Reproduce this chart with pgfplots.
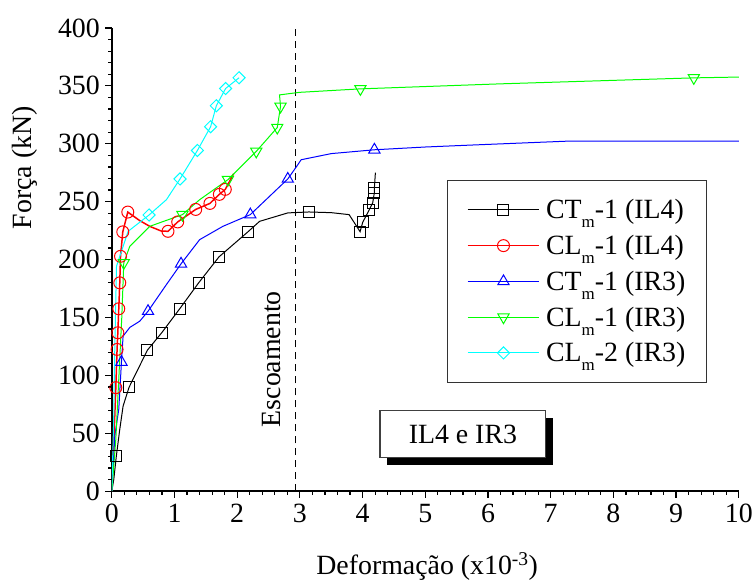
\documentclass[border=0pt]{standalone}
\usepackage{pgfplots}
\pgfplotsset{compat=1.18}
\usepackage{fontspec}
\setmainfont{Liberation Serif}
\newcommand\sub[1]{\raisebox{-9bp}{\fontsize{17}{17}\selectfont #1}}
\newcommand\bigf{\fontsize{28}{32}\selectfont}
\definecolor{cgreen}{RGB}{0,255,0}
\definecolor{ccyan}{RGB}{0,255,255}
\begin{document}
\begin{tikzpicture}
\begin{axis}[
  scale only axis, width=628bp, height=464bp,
  xmin=0, xmax=10, ymin=0, ymax=400,
  xtick={0,1,2,3,4,5,6,7,8,9,10}, ytick={0,50,100,150,200,250,300,350,400},
  xticklabels={0,1,2,3,4,5,6,7,8,9,10},
  yticklabels={0,50,100,150,200,250,300,350,400},
  minor x tick num=4, minor y tick num=4,
  axis x line*=bottom, axis y line*=left,
  axis line style={line width=1.6bp, black},
  tick align=outside,
  major tick length=6.5bp, minor tick length=3.5bp,
  every tick/.append style={line width=1.2bp, black},
  ticklabel style={font=\bigf},
  xticklabel style={yshift=-3bp},
  yticklabel style={xshift=-2bp},
  label style={font=\bigf},
  xlabel={Deformação (x10\textsuperscript{-3})},
  ylabel={Força (kN)},
  xlabel style={at={(axis description cs:0.503,-0.163)}, anchor=center},
  ylabel style={at={(axis description cs:-0.1385,0.698)}, anchor=center},
  legend style={at={(axis description cs:0.535,0.672)}, anchor=north west,
    draw=black!80, line width=1.2bp, fill=white, font=\bigf, row sep=11bp, column sep=4bp,
    inner xsep=19bp, inner ysep=17bp, cells={anchor=west}},
  legend image code/.code={\draw[#1, mark indices={2}] plot coordinates {(0bp,0bp) (36bp,0bp) (72bp,0bp)};},
]
\addplot[black, line width=1bp, dashed, dash pattern=on 7bp off 5bp, forget plot] coordinates {(2.93,0) (2.93,400)};

\addplot[black, line width=1bp, mark=square, mark size=5.5bp, mark options={solid, fill=white, line width=1bp},
  mark indices={3,6,7,8,9,10,11,12,15,18,19,20,21,22,23}] coordinates {
(0,0) (0.032,10.3) (0.072,30.2) (0.127,53.4) (0.18,73.5) (0.275,89.7) (0.568,121.8) (0.796,136.8)
(1.083,157.5) (1.385,179.9) (1.709,202.3) (2.170,223.9) (2.357,233) (2.807,240.3) (3.142,241.1)
(3.5,240.5) (3.785,238.8) (3.960,224.1) (4.002,232.2) (4.108,243.1) (4.161,248.9) (4.188,257.8)
(4.188,261.6) (4.204,275)};
\addlegendentry{CT\sub{m}-1 (IL4)}

\addplot[red, line width=1.5bp, mark=o, mark size=6bp, mark options={solid, fill=white, line width=1bp},
  mark indices={3,4,5,6,7,8,9,10,14,15,16,17,18,19}] coordinates {
(0,0) (0.03,40) (0.064,89.4) (0.084,122.4) (0.096,136.8) (0.111,157.5) (0.127,179.9) (0.139,202.8)
(0.175,223.9) (0.255,241) (0.446,233.6) (0.605,228.7) (0.79,224.6) (0.896,224.4) (1.051,232.5)
(1.338,243.3) (1.565,248.5) (1.715,256.3) (1.81,260.6) (1.943,274.1)};
\addlegendentry{CL\sub{m}-1 (IL4)}

\addplot[blue, line width=1bp, mark=triangle, mark size=6.5bp, mark options={solid, fill=white, line width=1bp},
  mark indices={4,8,10,13,14,18}] coordinates {
(0,0) (0.048,47.7) (0.111,70.7) (0.154,111.5) (0.18,133.9) (0.287,141.4) (0.446,146.8) (0.578,155.4)
(0.871,178.4) (1.104,196.3) (1.401,217.2) (1.772,228.7) (2.209,238.8) (2.807,269.6) (2.967,281.9)
(3.02,286.2) (3.5,291.5) (4.188,294.8) (5.0,297.2) (5.7,298.8) (7.29,302.3) (10.0,302.3)};
\addlegendentry{CT\sub{m}-1 (IR3)}

\addplot[cgreen, line width=1bp, mark=triangle, mark size=6.5bp, mark options={solid, fill=white, line width=1bp, rotate=180},
  mark indices={5,8,10,11,12,13,16,18}] coordinates {
(0,0) (0.064,44.8) (0.111,96.6) (0.159,150) (0.191,197.2) (0.287,211.5) (0.605,228.7) (1.126,238.8)
(1.401,251.7) (1.852,269) (2.304,293.4) (2.639,314) (2.691,332.2) (2.675,342.2) (2.994,344.4)
(3.965,347.4) (6.178,351.7) (9.283,356.9) (10.0,357.6)};
\addlegendentry{CL\sub{m}-1 (IR3)}

\addplot[ccyan, line width=1bp, mark=square, mark size=4.3bp, mark options={solid, fill=white, line width=1bp, rotate=45},
  mark indices={6,8,9,10,11,12,13}] coordinates {
(0,0) (0.03,62) (0.048,125) (0.075,194.2) (0.26,224.4) (0.594,238.5) (0.871,251.7) (1.088,269.6)
(1.365,294.2) (1.576,314.7) (1.667,332.8) (1.815,347.7) (2.03,357)};
\addlegendentry{CL\sub{m}-2 (IR3)}

\node[rotate=90, font=\bigf] at (axis cs:2.55,114) {Escoamento};
\node[fill=black, minimum width=166bp, minimum height=47bp, inner sep=0pt, xshift=7bp, yshift=-7bp] at (axis cs:5.6,49.1) {};
\node[draw=black!75, line width=1.2bp, fill=white, minimum width=166bp, minimum height=47bp, inner sep=0pt, font=\bigf] at (axis cs:5.6,49.1) {IL4 e IR3};
\end{axis}
% tick marks (axis area: 628bp x 464bp, origin at (0,0))
\foreach \i in {0,...,10} \draw[line width=1.2bp] (\i*62.8bp,0) -- (\i*62.8bp,-6.5bp);
\foreach \i in {0,...,50} \draw[line width=1.1bp] (\i*12.56bp,0) -- (\i*12.56bp,-3.5bp);
\foreach \i in {0,...,8} \draw[line width=1.2bp] (0,\i*58bp) -- (-6.5bp,\i*58bp);
\foreach \i in {0,...,40} \draw[line width=1.1bp] (0,\i*11.6bp) -- (-3.5bp,\i*11.6bp);
\path (-112bp,-86bp) rectangle (644bp,492bp);
\end{tikzpicture}
\end{document}
